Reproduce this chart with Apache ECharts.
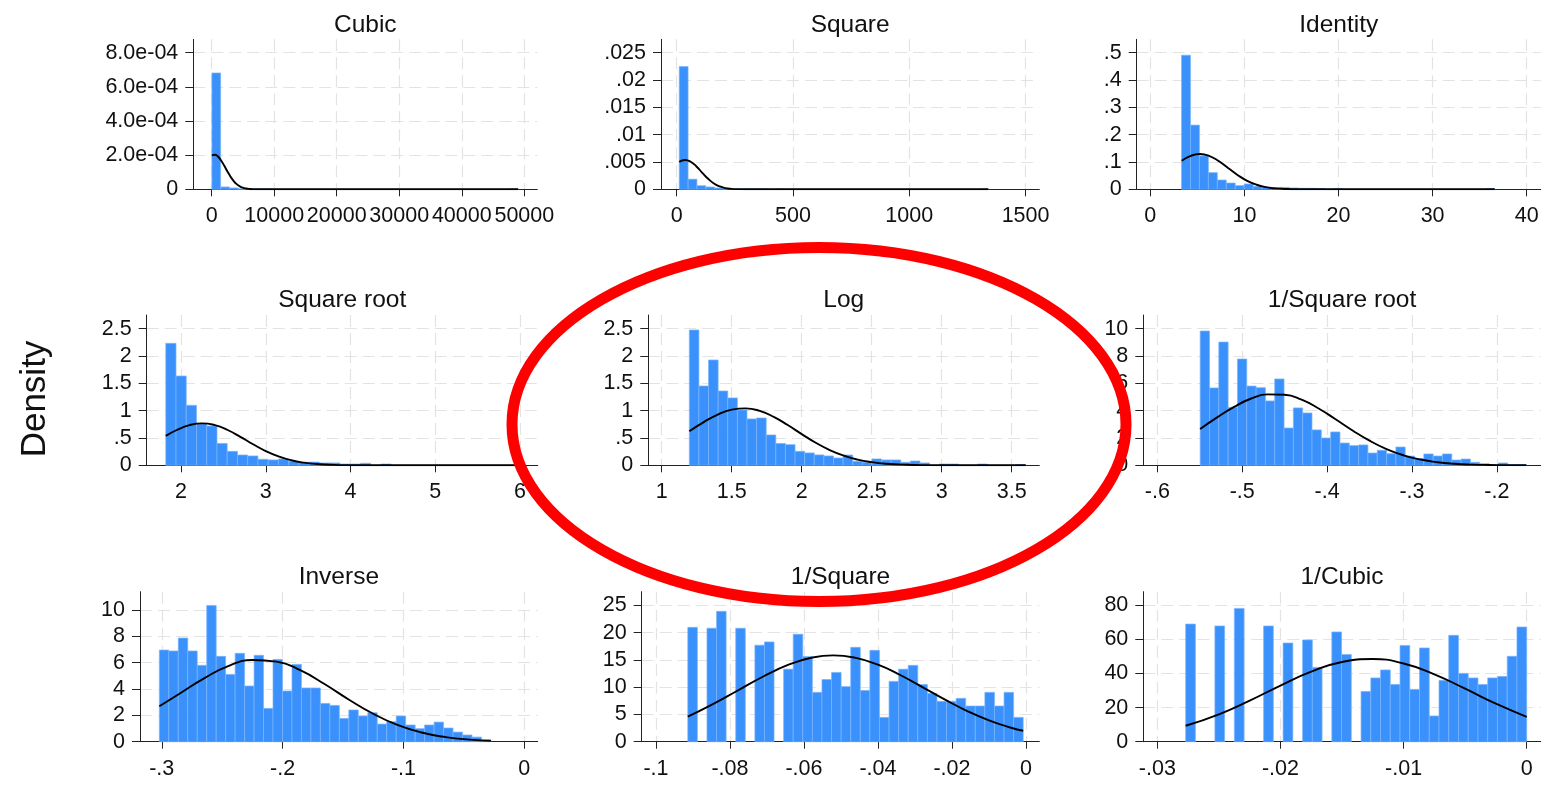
<!DOCTYPE html>
<html>
<head>
<meta charset="utf-8">
<script src="https://cdn.jsdelivr.net/npm/echarts@6/dist/echarts.min.js"></script>
<style>html,body{margin:0;padding:0;background:#fff}#c{width:1550px;height:786px}</style>
</head>
<body>
<div id="c"></div>
<script>
// ---------------- DATA ----------------
const panelTitles = ['Cubic', 'Square', 'Identity', 'Square root', 'Log', '1/Square root', 'Inverse', '1/Square', '1/Cubic'];
const yTitle = 'Density';

// histogram ranges [first bin start, last bin end] (35 equal bins each)
const cubicRange = [36.6, 49030];
const squareRange = [11.0, 1340];
const identityRange = [3.32, 36.6];
const sqrtRange = [1.82, 6.05];
const logRange = [1.197, 3.6];
const invSqrtRange = [-0.5495, -0.1653];
const inverseRange = [-0.302, -0.0276];
const invSquareRange = [-0.0914, -0.00075];
const invCubicRange = [-0.0277, 0];

// bar heights (density)
const cubicBars = [6.81e-4, 1.37e-5, 8e-6, 3e-6, 2e-6, 1e-6, 1e-6, 0, 0, 0, 0, 0, 0, 0, 0, 0, 0, 0, 0, 0, 0, 0, 0, 0, 0, 0, 0, 0, 0, 0, 0, 0, 0, 0, 1e-6];
const squareBars = [0.02244, 0.00185, 0.00066, 0.00042, 0.00024, 0.0001, 0.00006, 0.00004, 0.00003, 0.00002, 0, 0.00001, 0, 0, 0, 0, 0, 0, 0, 0, 0, 0, 0, 0, 0, 0, 0, 0, 0, 0, 0, 0, 0, 0, 0.00001];
const identityBars = [0.491, 0.235, 0.122, 0.061, 0.034, 0.023, 0.0134, 0.0195, 0.011, 0.0085, 0.006, 0.007, 0.005, 0.0037, 0.0037, 0.003, 0, 0.002, 0, 0, 0, 0, 0, 0, 0, 0, 0, 0, 0, 0, 0, 0, 0, 0, 0.002];
const sqrtBars = [2.232, 1.634, 1.098, 0.756, 0.72, 0.40, 0.256, 0.189, 0.171, 0.11, 0.098, 0.116, 0.073, 0.055, 0.06, 0.043, 0.043, 0.024, 0.024, 0.037, 0, 0.024, 0, 0, 0, 0, 0, 0, 0, 0, 0, 0, 0, 0, 0.012];
const logBars = [2.476, 1.451, 1.927, 1.36, 1.232, 1.012, 0.848, 0.866, 0.555, 0.40, 0.378, 0.256, 0.226, 0.19, 0.171, 0.134, 0.189, 0.073, 0.055, 0.116, 0.098, 0.098, 0.055, 0.079, 0.043, 0, 0.024, 0.024, 0, 0, 0.024, 0, 0, 0, 0.012];
const invSqrtBars = [9.83, 5.66, 9.02, 4.24, 7.78, 5.80, 5.68, 4.71, 6.32, 2.73, 4.20, 3.83, 2.59, 2.0, 2.44, 1.63, 1.44, 1.49, 0.90, 1.10, 0.85, 1.34, 0.68, 0.49, 0.83, 0.68, 0.83, 0.39, 0.46, 0.22, 0.12, 0, 0.17, 0.05, 0.05];
const inverseBars = [6.96, 6.89, 7.87, 6.89, 5.80, 10.35, 6.48, 5.11, 6.71, 4.23, 6.56, 2.53, 6.25, 3.85, 5.87, 4.08, 4.08, 2.91, 2.76, 1.77, 2.41, 1.95, 2.20, 1.34, 1.52, 1.95, 1.27, 0.99, 1.27, 1.49, 1.04, 0.73, 0.51, 0.35, 0.13];
const invSquareBars = [20.97, 0, 20.8, 23.9, 0, 20.8, 0, 17.7, 18.3, 0, 13.3, 19.7, 15.6, 9.05, 11.4, 12.7, 10.1, 17.3, 9.4, 16.75, 4.46, 11.06, 13.3, 14.0, 10.5, 8.86, 7.4, 7.4, 7.95, 6.54, 6.54, 9.05, 6.54, 9.05, 4.46];
const invCubicBars = [69.0, 0, 0, 67.9, 0, 78.2, 0, 0, 67.9, 0, 57.9, 0, 59.7, 43.6, 0, 64.4, 51.2, 0, 29.5, 37.4, 42.1, 33.6, 56.5, 30.7, 55.0, 15.1, 36.0, 62.4, 40.1, 37.4, 33.6, 37.4, 38.3, 50.1, 67.3];

// overlaid normal density curves
const cubicCurveX = [37, 500, 1000, 1500, 2000, 2500, 3000, 3500, 4000, 4500, 5000, 5500, 6000, 7000, 8000, 10000, 49030];
const cubicCurveY = [1.98e-4, 2.02e-4, 1.92e-4, 1.69e-4, 1.39e-4, 1.06e-4, 0.753e-4, 0.496e-4, 0.304e-4, 0.173e-4, 0.092e-4, 0.045e-4, 0.021e-4, 0.0035e-4, 0.0004e-4, 0, 0];
const squareCurveX = [11, 36, 60, 85, 110, 135, 160, 185, 210, 235, 260, 300, 400, 1340];
const squareCurveY = [0.00502, 0.00536, 0.00504, 0.00417, 0.00302, 0.00192, 0.00107, 0.00052, 0.00022, 0.000084, 0.000028, 0.0000035, 0, 0];
const identityCurveX = [3.34, 4.3, 5.28, 6.3, 7.3, 8.3, 9.3, 10.3, 11.3, 12.3, 13.3, 14.5, 16, 18, 36.6];
const identityCurveY = [0.1044, 0.1224, 0.1292, 0.1218, 0.1025, 0.0770, 0.0517, 0.0310, 0.0166, 0.0079, 0.0034, 0.00105, 0.00019, 0, 0];
const sqrtCurveX = [1.82, 1.95, 2.1, 2.25, 2.4, 2.55, 2.7, 2.85, 3.0, 3.15, 3.3, 3.45, 3.6, 3.8, 4.0, 4.3, 4.6, 6.05];
const sqrtCurveY = [0.538, 0.646, 0.735, 0.768, 0.735, 0.646, 0.521, 0.385, 0.260, 0.162, 0.092, 0.048, 0.023, 0.0076, 0.002, 0.0002, 0, 0];
const logCurveX = [1.197, 1.3, 1.4, 1.5, 1.6, 1.7, 1.8, 1.9, 2.0, 2.1, 2.2, 2.3, 2.4, 2.5, 2.6, 2.75, 2.9, 3.1, 3.3, 3.6];
const logCurveY = [0.623, 0.790, 0.929, 1.018, 1.042, 0.995, 0.886, 0.737, 0.571, 0.413, 0.279, 0.176, 0.103, 0.057, 0.029, 0.0093, 0.0026, 0.0003, 0, 0];
const invSqrtCurveX = [-0.5495, -0.53, -0.51, -0.49, -0.47, -0.45, -0.43, -0.41, -0.39, -0.37, -0.35, -0.33, -0.31, -0.29, -0.27, -0.25, -0.23, -0.21, -0.19, -0.1653];
const invSqrtCurveY = [2.66, 3.49, 4.26, 4.87, 5.19, 5.16, 4.80, 4.16, 3.37, 2.55, 1.80, 1.19, 0.733, 0.422, 0.227, 0.114, 0.053, 0.023, 0.0095, 0.003];
const inverseCurveX = [-0.302, -0.285, -0.265, -0.245, -0.225, -0.205, -0.185, -0.165, -0.145, -0.125, -0.105, -0.085, -0.065, -0.045, -0.0276];
const inverseCurveY = [2.69, 3.66, 4.81, 5.74, 6.20, 6.08, 5.41, 4.36, 3.19, 2.12, 1.277, 0.696, 0.345, 0.155, 0.071];
const invSquareCurveX = [-0.0914, -0.085, -0.078, -0.071, -0.064, -0.058, -0.0521, -0.046, -0.04, -0.034, -0.028, -0.022, -0.016, -0.01, -0.004, -0.00075];
const invSquareCurveY = [4.61, 6.75, 9.34, 11.95, 14.16, 15.40, 15.83, 15.37, 14.11, 12.23, 10.02, 7.76, 5.67, 3.92, 2.56, 2.0];
const invCubicCurveX = [-0.0277, -0.025, -0.0225, -0.02, -0.0175, -0.015, -0.0125, -0.01, -0.0075, -0.005, -0.0025, 0];
const invCubicCurveY = [9.34, 16.05, 24.09, 32.93, 41.08, 46.74, 48.48, 45.85, 39.54, 31.09, 22.30, 14.58];

// tick values and labels
const cubicXTicks = [0, 10000, 20000, 30000, 40000, 50000];
const cubicXLabels = ['0', '10000', '20000', '30000', '40000', '50000'];
const cubicYTicks = [0, 2e-4, 4e-4, 6e-4, 8e-4];
const cubicYLabels = ['0', '2.0e-04', '4.0e-04', '6.0e-04', '8.0e-04'];
const squareXTicks = [0, 500, 1000, 1500];
const squareXLabels = ['0', '500', '1000', '1500'];
const squareYTicks = [0, 0.005, 0.01, 0.015, 0.02, 0.025];
const squareYLabels = ['0', '.005', '.01', '.015', '.02', '.025'];
const identityXTicks = [0, 10, 20, 30, 40];
const identityXLabels = ['0', '10', '20', '30', '40'];
const identityYTicks = [0, 0.1, 0.2, 0.3, 0.4, 0.5];
const identityYLabels = ['0', '.1', '.2', '.3', '.4', '.5'];
const sqrtXTicks = [2, 3, 4, 5, 6];
const sqrtXLabels = ['2', '3', '4', '5', '6'];
const sqrtYTicks = [0, 0.5, 1, 1.5, 2, 2.5];
const sqrtYLabels = ['0', '.5', '1', '1.5', '2', '2.5'];
const logXTicks = [1, 1.5, 2, 2.5, 3, 3.5];
const logXLabels = ['1', '1.5', '2', '2.5', '3', '3.5'];
const logYTicks = [0, 0.5, 1, 1.5, 2, 2.5];
const logYLabels = ['0', '.5', '1', '1.5', '2', '2.5'];
const invSqrtXTicks = [-0.6, -0.5, -0.4, -0.3, -0.2];
const invSqrtXLabels = ['-.6', '-.5', '-.4', '-.3', '-.2'];
const invSqrtYTicks = [0, 2, 4, 6, 8, 10];
const invSqrtYLabels = ['0', '2', '4', '6', '8', '10'];
const inverseXTicks = [-0.3, -0.2, -0.1, 0];
const inverseXLabels = ['-.3', '-.2', '-.1', '0'];
const inverseYTicks = [0, 2, 4, 6, 8, 10];
const inverseYLabels = ['0', '2', '4', '6', '8', '10'];
const invSquareXTicks = [-0.1, -0.08, -0.06, -0.04, -0.02, 0];
const invSquareXLabels = ['-.1', '-.08', '-.06', '-.04', '-.02', '0'];
const invSquareYTicks = [0, 5, 10, 15, 20, 25];
const invSquareYLabels = ['0', '5', '10', '15', '20', '25'];
const invCubicXTicks = [-0.03, -0.02, -0.01, 0];
const invCubicXLabels = ['-.03', '-.02', '-.01', '0'];
const invCubicYTicks = [0, 20, 40, 60, 80];
const invCubicYLabels = ['0', '20', '40', '60', '80'];

// ---------------- LAYOUT (pixels / axis extents) ----------------
const layout = [
  { rect: [193.3, 39.3, 344, 150], x: [-2938, 52077], y: 8.78e-4 },
  { rect: [661, 39.3, 378.3, 150], x: [-67.5, 1559], y: 0.02743 },
  { rect: [1136.7, 39.3, 404, 150], x: [-1.445, 41.49], y: 0.549 },
  { rect: [146.7, 315, 391, 150.3], x: [1.595, 6.209], y: 2.75 },
  { rect: [648.3, 315, 391, 150.3], x: [0.904, 3.697], y: 2.75 },
  { rect: [1143.3, 315, 397.4, 150.3], x: [-0.6165, -0.1484], y: 11.0 },
  { rect: [140, 591.7, 397.7, 150], x: [-0.318, 0.0111], y: 11.39 },
  { rect: [641.7, 591.7, 397.6, 150], x: [-0.10386, 0.0036], y: 27.5 },
  { rect: [1143.3, 591.7, 397.4, 150], x: [-0.03114, 0.001137], y: 88 }
];

const panels = [
  [cubicRange, cubicBars, cubicCurveX, cubicCurveY, cubicXTicks, cubicXLabels, cubicYTicks, cubicYLabels],
  [squareRange, squareBars, squareCurveX, squareCurveY, squareXTicks, squareXLabels, squareYTicks, squareYLabels],
  [identityRange, identityBars, identityCurveX, identityCurveY, identityXTicks, identityXLabels, identityYTicks, identityYLabels],
  [sqrtRange, sqrtBars, sqrtCurveX, sqrtCurveY, sqrtXTicks, sqrtXLabels, sqrtYTicks, sqrtYLabels],
  [logRange, logBars, logCurveX, logCurveY, logXTicks, logXLabels, logYTicks, logYLabels],
  [invSqrtRange, invSqrtBars, invSqrtCurveX, invSqrtCurveY, invSqrtXTicks, invSqrtXLabels, invSqrtYTicks, invSqrtYLabels],
  [inverseRange, inverseBars, inverseCurveX, inverseCurveY, inverseXTicks, inverseXLabels, inverseYTicks, inverseYLabels],
  [invSquareRange, invSquareBars, invSquareCurveX, invSquareCurveY, invSquareXTicks, invSquareXLabels, invSquareYTicks, invSquareYLabels],
  [invCubicRange, invCubicBars, invCubicCurveX, invCubicCurveY, invCubicXTicks, invCubicXLabels, invCubicYTicks, invCubicYLabels]
];

const FONT = '"Liberation Sans", Arial, Helvetica, sans-serif';
const TICK_FS = 21.5, TITLE_FS = 24.5, YTITLE_FS = 35;
const AXIS_COLOR = '#222', TEXT_COLOR = '#111', GRID_COLOR = '#e3e3e3';
const BAR_FILL = '#3a91fc', BAR_EDGE = '#7ab5fc';

function labelFormatter(ticks, labels) {
  return function (v) {
    let best = 0, bd = Infinity;
    ticks.forEach((t, i) => { const d = Math.abs(t - v); if (d < bd) { bd = d; best = i; } });
    return labels[best];
  };
}

const grids = [], xAxes = [], yAxes = [], series = [], graphics = [];

panels.forEach((p, i) => {
  const [range, bars, cx, cy, xt, xl, yt, yl] = p;
  const L = layout[i];
  grids.push({ left: L.rect[0], top: L.rect[1], width: L.rect[2], height: L.rect[3], containLabel: false, outerBoundsMode: 'none' });
  const split = { show: true, lineStyle: { color: GRID_COLOR, width: 1.2, type: [12, 6] } };
  xAxes.push({
    gridIndex: i, type: 'value', min: L.x[0], max: L.x[1],
    axisLine: { show: true, onZero: false, lineStyle: { color: AXIS_COLOR, width: 1 } },
    axisTick: { show: true, length: 7, customValues: xt, lineStyle: { color: AXIS_COLOR, width: 1 } },
    axisLabel: { show: true, customValues: xt, formatter: labelFormatter(xt, xl), fontSize: TICK_FS, fontFamily: FONT, color: TEXT_COLOR, margin: 16, hideOverlap: false, showMinLabel: true, showMaxLabel: true },
    splitLine: split
  });
  yAxes.push({
    gridIndex: i, type: 'value', min: 0, max: L.y,
    axisLine: { show: true, onZero: false, lineStyle: { color: AXIS_COLOR, width: 1 } },
    axisTick: { show: true, length: 8, customValues: yt, lineStyle: { color: AXIS_COLOR, width: 1 } },
    axisLabel: { show: true, customValues: yt, formatter: labelFormatter(yt, yl), fontSize: TICK_FS, fontFamily: FONT, color: TEXT_COLOR, margin: 15, hideOverlap: false, showMinLabel: true, showMaxLabel: true },
    splitLine: split
  });
  const n = bars.length, w = (range[1] - range[0]) / n;
  const binData = bars.map((h, k) => [range[0] + k * w, range[0] + (k + 1) * w, h]);
  series.push({
    type: 'custom', xAxisIndex: i, yAxisIndex: i, data: binData, z: 2,
    encode: { x: [0, 1], y: 2 },
    renderItem: function (params, api) {
      const h = api.value(2);
      if (!(h > 0)) return null;
      const p0 = api.coord([api.value(0), h]);
      const p1 = api.coord([api.value(1), 0]);
      return { type: 'rect', shape: { x: p0[0], y: p0[1], width: p1[0] - p0[0], height: p1[1] - p0[1] },
        style: { fill: BAR_FILL, stroke: BAR_EDGE, lineWidth: 0.7 } };
    }
  });
  series.push({
    type: 'line', xAxisIndex: i, yAxisIndex: i, z: 3,
    data: cx.map((x, k) => [x, cy[k]]),
    smooth: 0.5, showSymbol: false, symbol: 'none',
    lineStyle: { color: '#000', width: 1.9 }
  });
  graphics.push({
    type: 'text', x: L.rect[0] + L.rect[2] / 2, y: L.rect[1] - 14.5,
    style: { text: panelTitles[i], fontSize: TITLE_FS, fontFamily: FONT, fill: TEXT_COLOR, align: 'center', verticalAlign: 'middle' }
  });
});

graphics.push({
  type: 'text', x: 35, y: 399, rotation: Math.PI / 2,
  style: { text: yTitle, fontSize: YTITLE_FS, fontFamily: FONT, fill: TEXT_COLOR, align: 'center', verticalAlign: 'middle' }
});
graphics.push({
  type: 'ellipse', z: 100,
  shape: { cx: 819, cy: 424.5, rx: 307, ry: 177 },
  style: { fill: 'none', stroke: '#ff0000', lineWidth: 11 }
});

const chart = echarts.init(document.getElementById('c'), null, { renderer: 'canvas' });
chart.setOption({
  backgroundColor: '#ffffff',
  animation: false,
  grid: grids, xAxis: xAxes, yAxis: yAxes, series: series,
  graphic: { elements: graphics }
});
</script>
</body>
</html>
